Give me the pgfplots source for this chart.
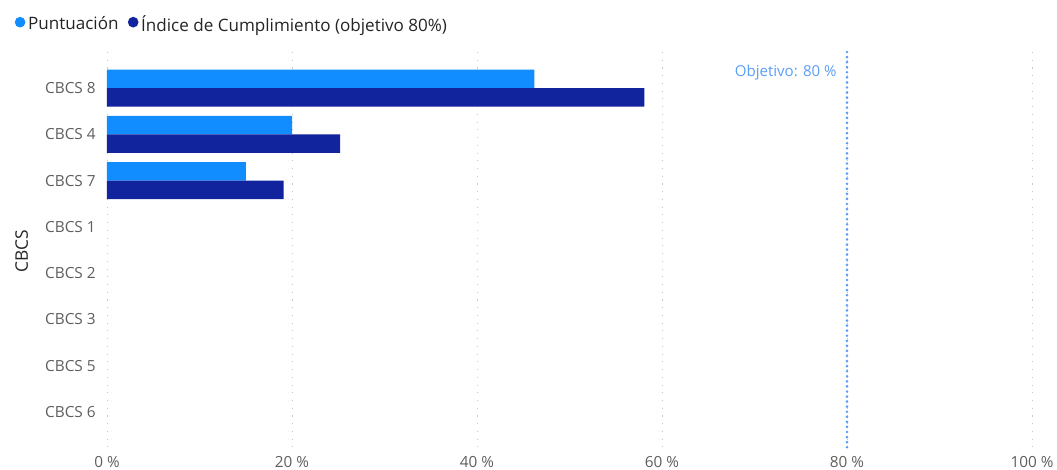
\documentclass[border=0pt]{standalone}
\usepackage{fontspec}
\setmainfont{Open Sans}
\usepackage{pgfplots}
\pgfplotsset{compat=1.18}
\definecolor{light}{HTML}{118DFF}
\definecolor{dark}{HTML}{12239E}
\definecolor{tickc}{HTML}{605E5C}
\definecolor{labc}{HTML}{252423}
\definecolor{obj}{HTML}{5A9EF5}
\begin{document}
\begin{tikzpicture}
\path[use as bounding box] (0,0) rectangle (792.75pt,-352.5pt);
\begin{axis}[
 scale only axis, width=693.75pt, height=298.5pt,
 at={(80.25pt,-337.5pt)}, anchor=south west,
 xmin=0, xmax=100, ymin=-0.778, ymax=7.82, y dir=reverse,
 ytick={0,...,7},
 yticklabels={CBCS 8,CBCS 4,CBCS 7,CBCS 1,CBCS 2,CBCS 3,CBCS 5,CBCS 6},
 xtick={0,20,40,60,80,100},
 xticklabels={0 \%,20 \%,40 \%,60 \%,80 \%,100 \%},
 axis line style={draw=none}, major tick length=0pt,
 xmajorgrids, grid style={dash pattern=on 0.8pt off 5pt, color=gray!45, line width=0.7pt},
 tick label style={font=\fontsize{11.5}{13}\selectfont, text=tickc},
 yticklabel style={xshift=-5pt},
 xticklabel style={yshift=-1pt},
 ylabel={CBCS},
 every axis y label/.style={at={(axis description cs:0,0.5)}, xshift=-64pt, rotate=90, anchor=center, font=\fontsize{13}{15}\selectfont, text=labc},
 legend columns=2,
 legend style={at={(axis description cs:-0.100,1.10)}, anchor=north west, draw=none, fill=none, inner sep=0pt,
   font=\fontsize{12.8}{15}\selectfont, text=labc, /tikz/every even column/.append style={column sep=5pt}},
 legend cell align=left,
 legend image code/.code={\fill[#1] (0.14cm,0.05cm) circle (4pt);},
 clip=false,
]
\addplot[xbar, bar width=0.4, bar shift=-0.2, fill=light, draw=none] coordinates {(46.2,0) (20,1) (15,2)};
\addlegendentry{Puntuación}
\addplot[xbar, bar width=0.4, bar shift=0.2, fill=dark, draw=none] coordinates {(58.1,0) (25.2,1) (19.1,2)};
\addlegendentry{Índice de Cumplimiento (objetivo 80\%)}
\addplot[obj, line width=2.2pt, line cap=round, dash pattern=on 0pt off 3.8pt, forget plot] coordinates {(80,-0.778) (80,7.82)};
\node[anchor=east, text=obj, font=\fontsize{11.3}{13}\selectfont, inner sep=0pt] at (axis cs:78.9,-0.33) {Objetivo: 80 \%};
\end{axis}
\end{tikzpicture}
\end{document}
